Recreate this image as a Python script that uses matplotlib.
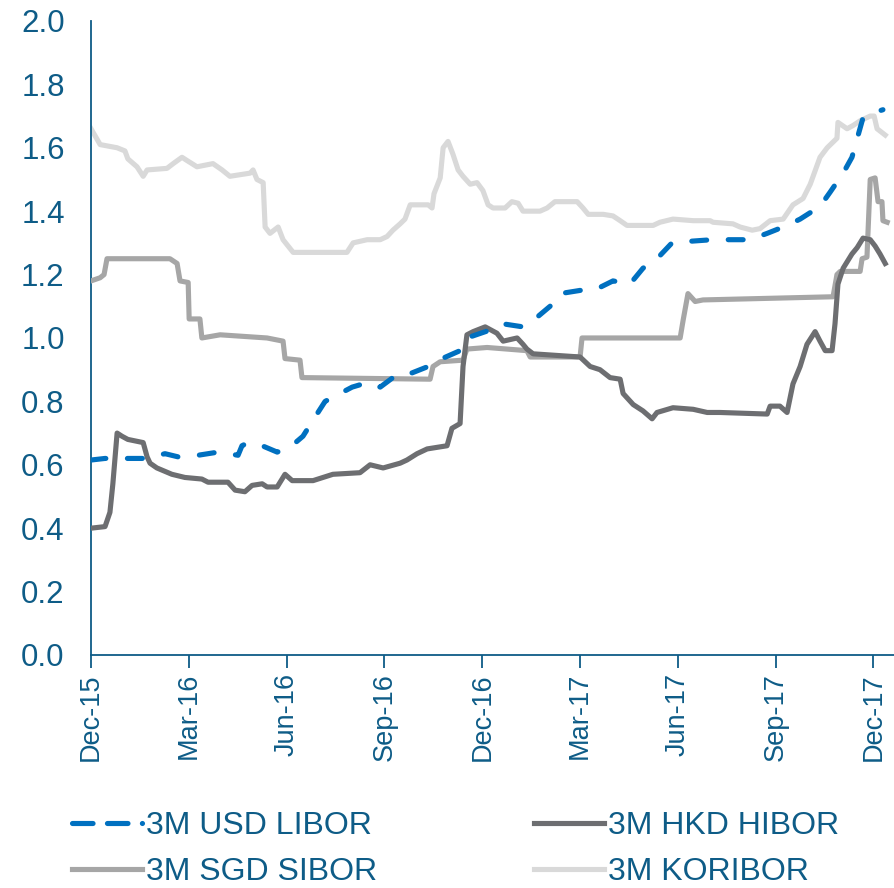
import numpy as np
import matplotlib
matplotlib.use("Agg")
import matplotlib.pyplot as plt
from matplotlib.lines import Line2D

plt.rcParams['font.family'] = ['Liberation Sans', 'DejaVu Sans']

# x positions are months after Dec-15
tick_pos = [0, 3, 6, 9, 12, 15, 18, 21, 24]
tick_labels = ['Dec-15', 'Mar-16', 'Jun-16', 'Sep-16', 'Dec-16',
               'Mar-17', 'Jun-17', 'Sep-17', 'Dec-17']

libor_m = [0, 0.43, 1.66, 2.27, 2.67, 3.28, 3.90, 4.51, 4.63, 4.82, 5.25, 5.71,
           6.10, 6.50, 6.93, 7.18, 7.64, 8.01, 8.50, 8.87, 9.39, 9.85, 10.34,
           10.77, 11.32, 11.53, 12.24, 12.61, 13.25, 13.56, 14.08, 14.39, 15.00,
           15.52, 16.01, 16.53, 16.93, 17.36, 17.82, 18.37, 19.05, 20.21, 20.74,
           21.35, 21.75, 22.36, 22.67, 23.07, 23.34, 23.53, 23.68, 23.99, 24.29]
libor_v = [0.615, 0.62, 0.62, 0.635, 0.625, 0.63, 0.64, 0.63, 0.66, 0.67, 0.66, 0.64,
           0.655, 0.69, 0.76, 0.80, 0.825, 0.845, 0.86, 0.845, 0.885, 0.89, 0.91,
           0.935, 0.96, 1.00, 1.025, 1.045, 1.035, 1.055, 1.10, 1.14, 1.15,
           1.155, 1.18, 1.17, 1.22, 1.25, 1.30, 1.305, 1.31, 1.31, 1.33,
           1.355, 1.375, 1.415, 1.46, 1.52, 1.57, 1.64, 1.695, 1.71, 1.72]

hibor_m = [0, 0.43, 0.58, 0.67, 0.80, 0.95, 1.13, 1.60, 1.72, 1.81, 2.02, 2.48,
           2.88, 3.40, 3.59, 4.20, 4.42, 4.72, 4.94, 5.25, 5.40, 5.71, 5.95, 6.17,
           6.81, 7.42, 8.25, 8.56, 8.96, 9.48, 9.69, 10.00, 10.31, 10.92, 11.07,
           11.32, 11.41, 11.53, 11.72, 12.09, 12.45, 12.64, 13.07, 13.25, 13.37,
           13.56, 15.00, 15.31, 15.61, 15.92, 16.23, 16.32, 16.63, 16.93, 17.21,
           17.36, 17.85, 18.47, 18.90, 19.29, 20.74, 20.83, 21.13, 21.35, 21.53,
           21.75, 21.96, 22.21, 22.36, 22.52, 22.73, 22.82, 22.91, 23.07, 23.34,
           23.50, 23.68, 23.90, 24.05, 24.20, 24.36]
hibor_v = [0.40, 0.405, 0.45, 0.54, 0.70, 0.69, 0.68, 0.67, 0.625, 0.605, 0.59, 0.57,
           0.56, 0.555, 0.545, 0.545, 0.52, 0.515, 0.535, 0.54, 0.53, 0.53, 0.57, 0.55,
           0.55, 0.57, 0.575, 0.60, 0.59, 0.605, 0.615, 0.635, 0.65, 0.66, 0.715,
           0.73, 0.91, 1.01, 1.02, 1.035, 1.015, 0.99, 1.00, 0.98, 0.965,
           0.95, 0.94, 0.91, 0.90, 0.875, 0.87, 0.825, 0.79, 0.77, 0.745,
           0.765, 0.78, 0.775, 0.765, 0.765, 0.76, 0.785, 0.785, 0.765, 0.855,
           0.91, 0.98, 1.02, 0.99, 0.96, 0.96, 1.045, 1.17, 1.22, 1.265,
           1.285, 1.315, 1.31, 1.29, 1.265, 1.235]

sibor_m = [0, 0.28, 0.40, 0.49, 1.81, 2.42, 2.64, 2.73, 2.98, 3.01, 3.34, 3.40,
           3.96, 5.40, 5.89, 5.95, 6.41, 6.47, 10.40, 10.49, 10.71, 11.41, 11.53,
           12.15, 13.37, 13.47, 15.00, 15.06, 18.07, 18.16, 18.31, 18.53, 18.77,
           22.76, 22.88, 22.98, 23.59, 23.65, 23.80, 23.90, 24.05, 24.14, 24.26,
           24.29, 24.42]
sibor_v = [1.18, 1.19, 1.20, 1.25, 1.25, 1.25, 1.235, 1.18, 1.175, 1.06, 1.06, 1.00,
           1.01, 1.00, 0.99, 0.935, 0.93, 0.875, 0.87, 0.91, 0.925, 0.93, 0.965,
           0.97, 0.96, 0.94, 0.94, 1.00, 1.00, 1.055, 1.14, 1.115, 1.12,
           1.13, 1.20, 1.21, 1.21, 1.25, 1.255, 1.50, 1.505, 1.43, 1.43,
           1.37, 1.365]

kori_m = [0, 0.28, 0.80, 1.04, 1.13, 1.41, 1.60, 1.72, 2.33, 2.52, 2.79, 2.94,
          3.25, 3.74, 4.02, 4.26, 4.88, 4.97, 5.09, 5.28, 5.34, 5.49, 5.74, 5.89,
          6.20, 7.85, 8.04, 8.47, 8.87, 9.08, 9.26, 9.48, 9.63, 9.79, 10.34,
          10.46, 10.52, 10.71, 10.80, 10.95, 11.10, 11.26, 11.41, 11.63, 11.84,
          12.02, 12.18, 12.33, 12.70, 12.91, 13.10, 13.25, 13.77, 13.99, 14.23,
          14.91, 15.09, 15.25, 15.71, 16.01, 16.23, 16.44, 17.24, 17.45, 17.85,
          18.47, 18.99, 19.08, 19.69, 19.91, 20.28, 20.52, 20.83, 21.23, 21.53,
          21.84, 22.06, 22.36, 22.58, 22.88, 22.91, 23.19, 23.37, 23.59, 23.90,
          24.02, 24.11, 24.36]
kori_v = [1.66, 1.61, 1.60, 1.59, 1.565, 1.54, 1.51, 1.53, 1.535, 1.55, 1.57, 1.56,
          1.54, 1.55, 1.53, 1.51, 1.52, 1.53, 1.50, 1.49, 1.35, 1.33, 1.35, 1.31,
          1.27, 1.27, 1.30, 1.31, 1.31, 1.32, 1.34, 1.36, 1.375, 1.42, 1.42,
          1.41, 1.455, 1.505, 1.60, 1.62, 1.58, 1.53, 1.51, 1.485, 1.49,
          1.465, 1.42, 1.41, 1.41, 1.43, 1.425, 1.40, 1.40, 1.41, 1.43,
          1.43, 1.41, 1.39, 1.39, 1.385, 1.37, 1.355, 1.355, 1.365, 1.375,
          1.37, 1.37, 1.365, 1.36, 1.35, 1.34, 1.345, 1.37, 1.375, 1.42,
          1.44, 1.485, 1.57, 1.60, 1.63, 1.68, 1.66, 1.67, 1.685, 1.70,
          1.70, 1.66, 1.64]

txt = '#0E5C87'
lw = 3.7

fig = plt.figure(figsize=(8.95, 8.88), dpi=100)
ax = fig.add_axes([0.1017, 0.2624, 0.8983, 0.714])

ax.plot(libor_m, libor_v, color='#0070C0', lw=lw, dashes=(2.9, 4.2),
        dash_capstyle='round', zorder=5)
l2, = ax.plot(hibor_m, hibor_v, color='#6D6E71', lw=lw, label='3M HKD HIBOR', zorder=4)
l3, = ax.plot(sibor_m, sibor_v, color='#A6A6A6', lw=lw, label='3M SGD SIBOR', zorder=3)
l4, = ax.plot(kori_m, kori_v, color='#D9D9D9', lw=lw, label='3M KORIBOR', zorder=2)

# legend handle: two dashes, like the original
l1 = Line2D([], [], color='#0070C0', lw=lw, dashes=(4.0, 2.8),
            dash_capstyle='round', label='3M USD LIBOR')

ax.set_xlim(0, 24.66)
ax.set_ylim(0, 2.0)
ax.set_yticks(np.arange(0, 2.01, 0.2))
ax.set_yticklabels(['%.1f' % v for v in np.arange(0, 2.01, 0.2)], fontsize=22.5)
ax.set_xticks(tick_pos)
ax.set_xticklabels(tick_labels, rotation=90, fontsize=19.5)

for s in ['top', 'right']:
    ax.spines[s].set_visible(False)
for s in ['left', 'bottom']:
    ax.spines[s].set_color(txt)
    ax.spines[s].set_linewidth(1.3)

ax.tick_params(axis='y', length=0, pad=19, labelcolor=txt)
ax.tick_params(axis='x', length=9, width=1.3, color=txt, pad=4, labelcolor=txt)

fig.legend(handles=[l1, l3, l2, l4], ncol=2, loc='upper left',
           bbox_to_anchor=(0.066, 0.101), frameon=False,
           fontsize=23, labelcolor=txt,
           handlelength=2.2, handletextpad=0.12,
           columnspacing=4.9, labelspacing=0.5, borderaxespad=0)

fig.savefig('out.png', dpi=100)
